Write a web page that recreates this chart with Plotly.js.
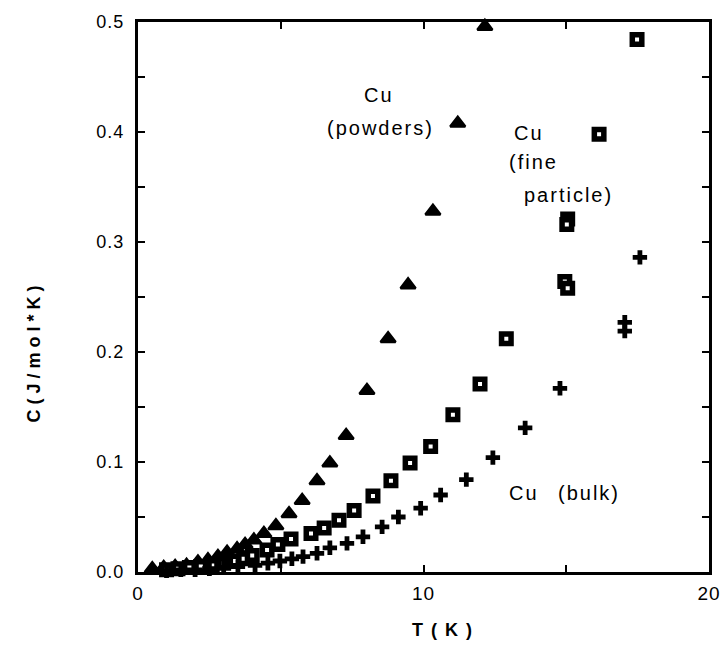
<!DOCTYPE html>
<html>
<head>
<meta charset="utf-8">
<script src="https://cdn.plot.ly/plotly-3.0.1.min.js"></script>
<style>
  html, body { margin: 0; padding: 0; background: #fff; }
  #plot { width: 725px; height: 652px; }
  text[data-unformatted="T(K)"] { letter-spacing: 8px; }
  text[data-unformatted="C(J/mol*K)"] { letter-spacing: 5px; }
  .annotation-text { letter-spacing: 2px; }
  .xtick text, .ytick text { letter-spacing: 1px; }
</style>
</head>
<body>
<div id="plot"></div>
<script>
// Cu (powders) — triangles
const powdersT = [0.5, 0.9, 1.3, 1.7, 2.1, 2.45, 2.8, 3.12, 3.47, 3.75, 4.06, 4.41, 4.83, 5.29, 5.75, 6.27, 6.72, 7.29, 8.02, 8.76, 9.46, 10.33, 11.2, 12.15];
const powdersC = [0.003, 0.004, 0.005, 0.006, 0.009, 0.011, 0.014, 0.018, 0.021, 0.025, 0.029, 0.035, 0.042, 0.053, 0.065, 0.083, 0.099, 0.124, 0.165, 0.212, 0.261, 0.328, 0.408, 0.496];

// Cu (fine particle) — squares
const fineT = [1.0, 1.4, 1.8, 2.2, 2.6, 3.0, 3.4, 3.7, 4.0, 4.52, 4.9, 5.36, 6.06, 6.52, 7.04, 7.57, 8.23, 8.86, 9.53, 10.25, 11.03, 11.98, 12.9, 14.95, 15.05, 15.05, 15.02, 16.15, 17.48];
const fineC = [0.002, 0.003, 0.004, 0.005, 0.006, 0.008, 0.010, 0.012, 0.015, 0.020, 0.025, 0.030, 0.035, 0.040, 0.047, 0.056, 0.069, 0.083, 0.099, 0.114, 0.143, 0.171, 0.212, 0.264, 0.258, 0.321, 0.316, 0.398, 0.484];

// Cu (bulk) — plus signs
const bulkT = [1.0, 1.5, 2.0, 2.5, 3.0, 3.5, 4.1, 4.55, 4.97, 5.39, 5.78, 6.27, 6.72, 7.32, 7.88, 8.55, 9.12, 9.9, 10.6, 11.5, 12.43, 13.56, 14.78, 17.05, 17.05, 17.58];
const bulkC = [0.001, 0.002, 0.002, 0.003, 0.004, 0.005, 0.006, 0.008, 0.010, 0.012, 0.014, 0.017, 0.022, 0.026, 0.032, 0.041, 0.050, 0.058, 0.070, 0.084, 0.104, 0.131, 0.167, 0.219, 0.227, 0.286];

// Axis ticks
const xTickVals = [0, 5, 10, 15, 20];
const xTickText = ["0", "", "10", "", "20"];
const yTickVals = [0, 0.05, 0.1, 0.15, 0.2, 0.25, 0.3, 0.35, 0.4, 0.45, 0.5];
const yTickText = ["0.0", "", "0.1", "", "0.2", "", "0.3", "", "0.4", "", "0.5"];

// Titles and labels
const xTitle = "T(K)";
const yTitle = "C(J/mol*K)";
const labelTexts = ["Cu", "(powders)", "Cu", "(fine", "particle)", "Cu", "(bulk)"];
const labelT = [7.85, 6.55, 13.1, 12.92, 13.45, 12.92, 14.64];
const labelC = [0.434, 0.404, 0.399, 0.373, 0.343, 0.072, 0.072];

const FONT = "Liberation Sans, Arial, Helvetica, sans-serif";

const traces = [
  {
    x: powdersT, y: powdersC, type: "scatter", mode: "markers", name: "Cu (powders)",
    marker: { symbol: "triangle-up", size: 13, color: "#000", line: { color: "#000", width: 2.5 } },
    cliponaxis: false
  },
  {
    x: fineT, y: fineC, type: "scatter", mode: "markers", name: "Cu (fine particle)",
    marker: { symbol: "square", size: 9.5, color: "#fff", line: { color: "#000", width: 5.5 } },
    cliponaxis: false
  },
  {
    x: bulkT, y: bulkC, type: "scatter", mode: "markers", name: "Cu (bulk)",
    marker: { symbol: "cross", size: 12, color: "#000", line: { width: 0 } },
    cliponaxis: false
  }
];

const annotations = labelTexts.map((t, i) => ({
  x: labelT[i], y: labelC[i], xref: "x", yref: "y", text: t, showarrow: false,
  xanchor: "left", yanchor: "middle",
  font: { family: FONT, size: 20, color: "#000" }
}));
annotations.push({
  xref: "paper", yref: "paper", x: 0.54, y: -0.105, text: xTitle, showarrow: false,
  xanchor: "center", yanchor: "middle",
  font: { family: FONT, size: 18, color: "#000", weight: "bold" }
});
annotations.push({
  xref: "paper", yref: "paper", x: -0.183, y: 0.40, text: yTitle, showarrow: false,
  textangle: -90, xanchor: "center", yanchor: "middle",
  font: { family: FONT, size: 18, color: "#000", weight: "bold" }
});

const layout = {
  width: 725, height: 652,
  margin: { l: 138, r: 16, t: 22, b: 80 },
  paper_bgcolor: "#fff", plot_bgcolor: "#fff",
  showlegend: false,
  xaxis: {
    range: [0, 20], tickvals: xTickVals, ticktext: xTickText,
    ticks: "inside", ticklen: 7, tickwidth: 2, tickcolor: "#000",
    showline: true, linewidth: 3, linecolor: "#000", mirror: "ticks",
    showgrid: false, zeroline: false, ticklabelstandoff: 2,
    tickfont: { family: FONT, size: 19, color: "#000" }
  },
  yaxis: {
    range: [0, 0.5], tickvals: yTickVals, ticktext: yTickText,
    ticks: "inside", ticklen: 7, tickwidth: 2, tickcolor: "#000",
    showline: true, linewidth: 3, linecolor: "#000", mirror: "ticks",
    showgrid: false, zeroline: false, ticklabelstandoff: 7,
    tickfont: { family: FONT, size: 18, color: "#000" }
  },
  annotations: annotations
};

Plotly.newPlot("plot", traces, layout, { displayModeBar: false, staticPlot: true });
</script>
</body>
</html>
